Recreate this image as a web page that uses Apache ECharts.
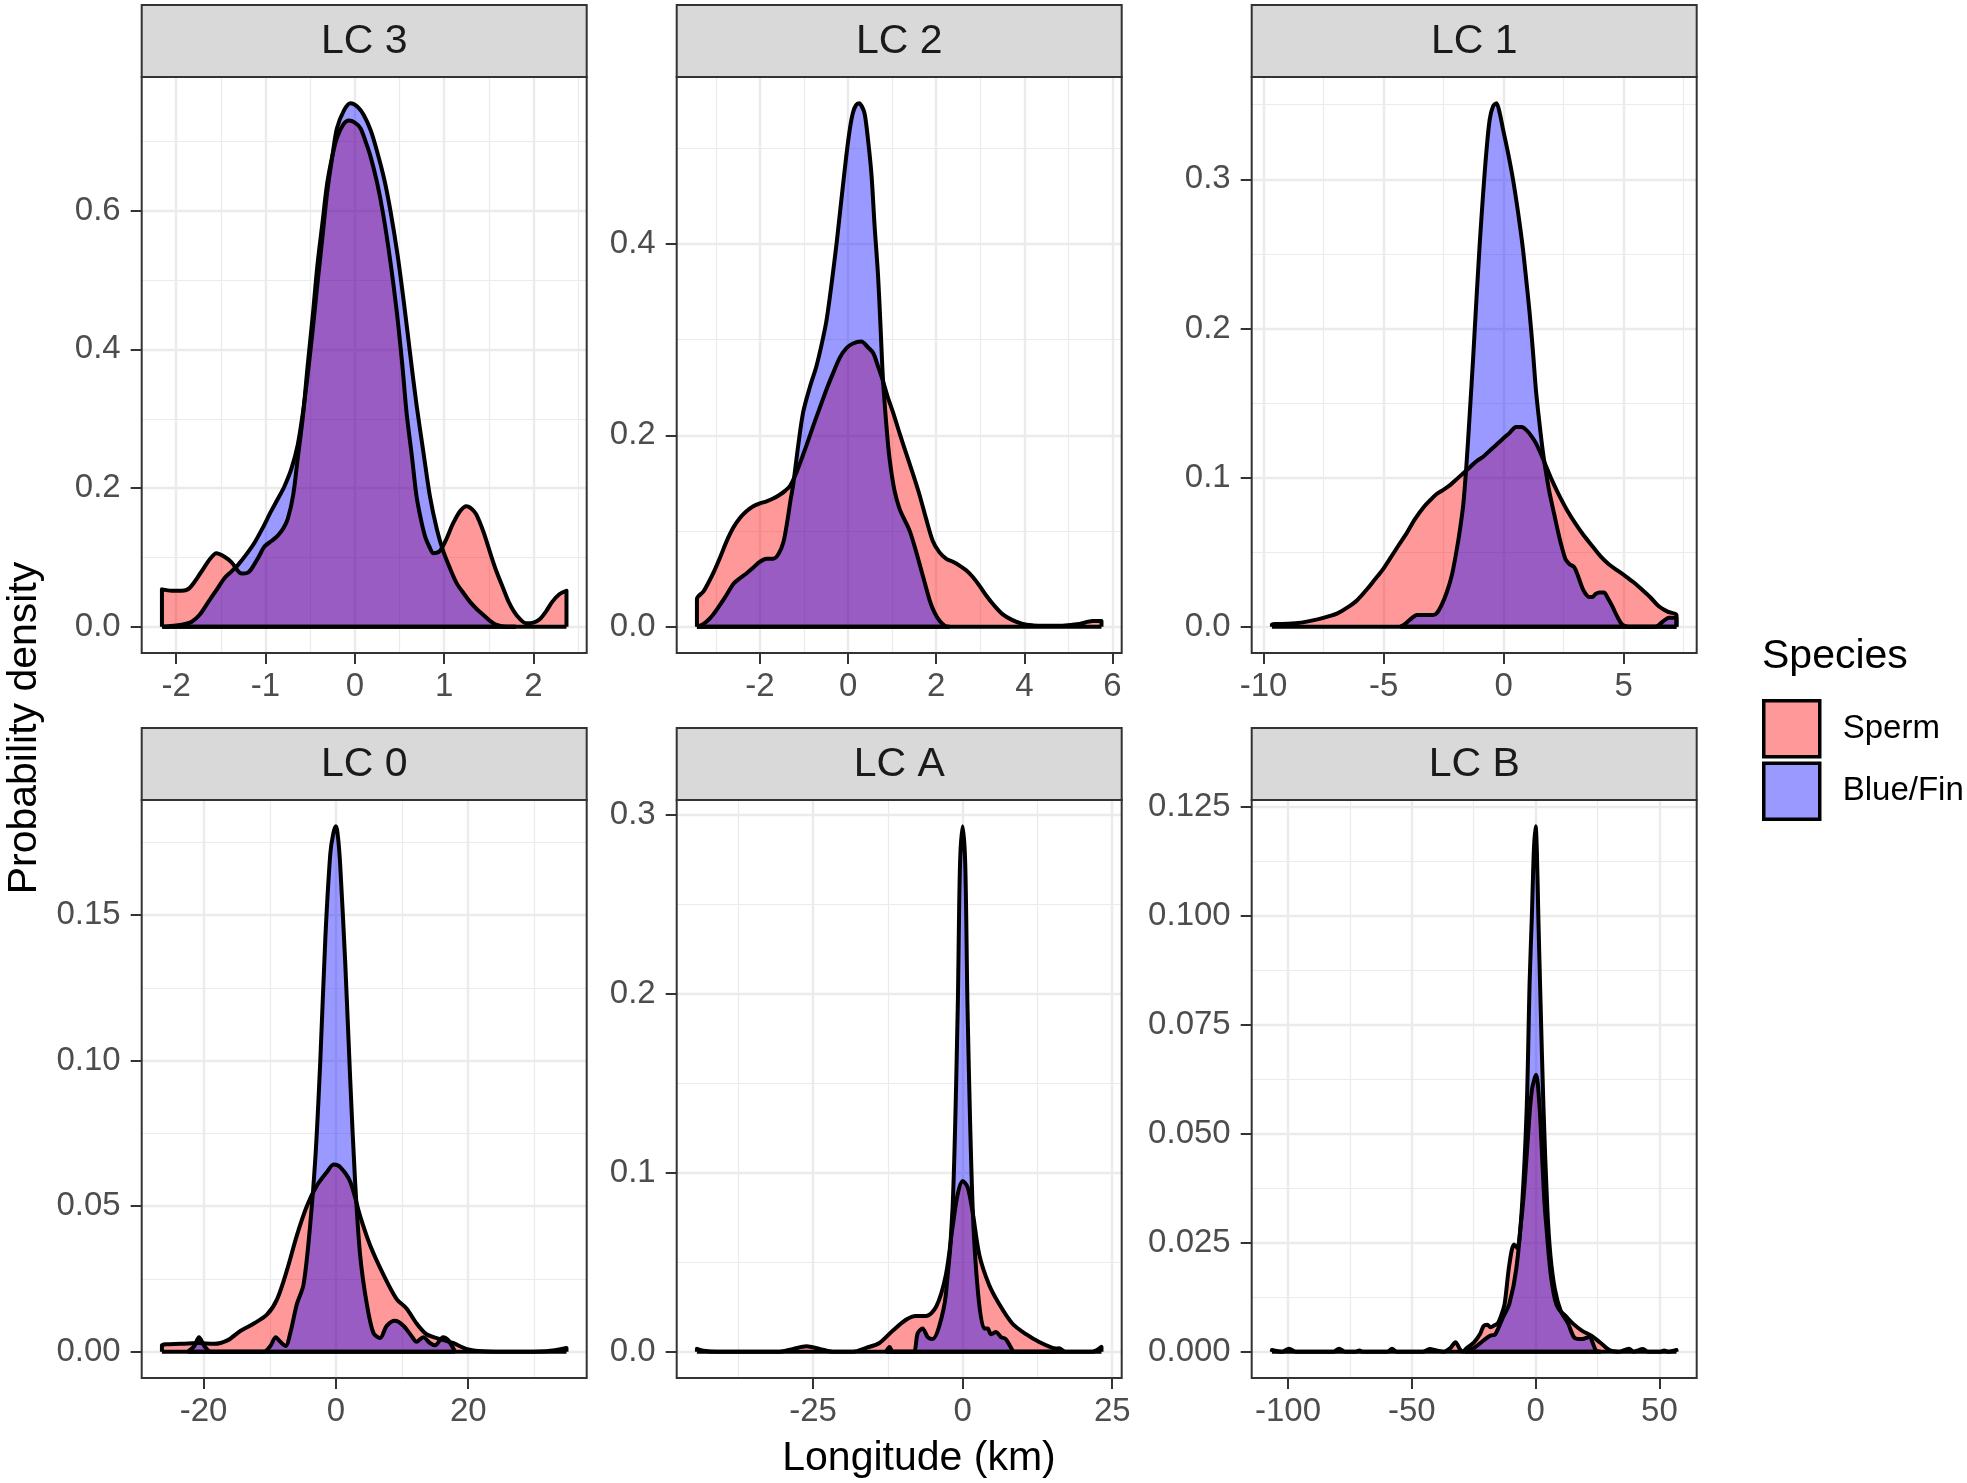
<!DOCTYPE html>
<html><head><meta charset="utf-8">
<script src="https://cdn.jsdelivr.net/npm/echarts@6/dist/echarts.min.js"></script>
<style>html,body{margin:0;padding:0;background:#fff}#c{width:1967px;height:1483px}</style>
</head><body><div id="c"></div><script>
// ---------------- DATA (x = longitude km, y = probability density) ----------------
const PANEL_NAMES = ['LC 3', 'LC 2', 'LC 1', 'LC 0', 'LC A', 'LC B'];
const SPECIES = ['Sperm', 'Blue/Fin'];

const LC3_SPERM = [[-2.16,0.054],[-2.05,0.052],[-1.94,0.052],[-1.85,0.056],[-1.72,0.079],[-1.62,0.098],[-1.55,0.106],[-1.46,0.101],[-1.38,0.093],[-1.27,0.077],[-1.2,0.078],[-1.16,0.083],[-1.08,0.100],[-1.01,0.116],[-0.93,0.124],[-0.86,0.132],[-0.8,0.142],[-0.75,0.156],[-0.69,0.19],[-0.64,0.242],[-0.58,0.305],[-0.53,0.374],[-0.47,0.45],[-0.42,0.52],[-0.36,0.585],[-0.31,0.639],[-0.25,0.68],[-0.2,0.705],[-0.13,0.724],[-0.067,0.730],[0.0,0.727],[0.063,0.719],[0.12,0.70],[0.174,0.679],[0.25,0.64],[0.32,0.593],[0.40,0.525],[0.47,0.454],[0.53,0.38],[0.58,0.308],[0.64,0.245],[0.69,0.189],[0.74,0.155],[0.79,0.129],[0.84,0.114],[0.88,0.106],[0.95,0.109],[1.02,0.125],[1.10,0.149],[1.18,0.167],[1.25,0.174],[1.31,0.170],[1.36,0.162],[1.44,0.137],[1.51,0.109],[1.58,0.082],[1.66,0.056],[1.73,0.034],[1.81,0.017],[1.92,0.005],[2.0,0.006],[2.07,0.011],[2.14,0.022],[2.21,0.036],[2.29,0.047],[2.37,0.052]];
const LC3_BLUE = [[-2.15,0.0],[-2.0,0.002],[-1.9,0.004],[-1.83,0.007],[-1.74,0.017],[-1.64,0.036],[-1.55,0.053],[-1.46,0.07],[-1.38,0.08],[-1.31,0.089],[-1.2,0.107],[-1.12,0.122],[-1.03,0.143],[-0.94,0.166],[-0.86,0.185],[-0.79,0.202],[-0.71,0.228],[-0.64,0.262],[-0.58,0.31],[-0.53,0.361],[-0.47,0.43],[-0.42,0.493],[-0.36,0.565],[-0.31,0.626],[-0.25,0.68],[-0.2,0.719],[-0.12,0.745],[-0.048,0.755],[0.03,0.75],[0.10,0.738],[0.18,0.715],[0.25,0.685],[0.33,0.645],[0.40,0.599],[0.48,0.535],[0.55,0.467],[0.62,0.393],[0.69,0.321],[0.77,0.25],[0.84,0.189],[0.92,0.14],[0.99,0.109],[1.07,0.083],[1.14,0.063],[1.22,0.048],[1.29,0.036],[1.37,0.025],[1.44,0.017],[1.51,0.009],[1.58,0.003],[1.7,0.0],[1.8,0.0]];

const LC2_SPERM = [[-3.43,0.029],[-3.28,0.037],[-3.17,0.046],[-3.06,0.056],[-2.9,0.073],[-2.75,0.090],[-2.6,0.104],[-2.45,0.114],[-2.3,0.121],[-2.15,0.126],[-2.0,0.129],[-1.85,0.131],[-1.7,0.134],[-1.55,0.138],[-1.43,0.142],[-1.32,0.147],[-1.2,0.158],[-1.09,0.171],[-0.94,0.19],[-0.79,0.210],[-0.64,0.229],[-0.49,0.248],[-0.34,0.265],[-0.19,0.281],[-0.04,0.291],[0.11,0.296],[0.30,0.298],[0.45,0.292],[0.57,0.286],[0.68,0.272],[0.79,0.257],[0.9,0.24],[1.02,0.224],[1.17,0.202],[1.32,0.181],[1.47,0.16],[1.62,0.138],[1.77,0.113],[1.92,0.090],[2.07,0.078],[2.23,0.071],[2.38,0.068],[2.53,0.064],[2.68,0.059],[2.83,0.052],[2.98,0.043],[3.13,0.033],[3.32,0.022],[3.51,0.013],[3.73,0.007],[3.96,0.003],[4.2,0.0015],[4.42,0.001],[4.79,0.001],[5.05,0.002],[5.25,0.003],[5.55,0.006],[5.75,0.006]];
const LC2_BLUE = [[-3.43,0.0],[-3.28,0.003],[-3.13,0.009],[-2.98,0.018],[-2.79,0.031],[-2.6,0.045],[-2.45,0.051],[-2.3,0.056],[-2.15,0.062],[-2.0,0.068],[-1.85,0.071],[-1.7,0.071],[-1.58,0.076],[-1.47,0.088],[-1.38,0.11],[-1.3,0.134],[-1.25,0.147],[-1.13,0.19],[-1.02,0.224],[-0.87,0.25],[-0.72,0.272],[-0.6,0.295],[-0.49,0.320],[-0.37,0.36],[-0.26,0.401],[-0.15,0.447],[-0.04,0.492],[0.04,0.52],[0.11,0.537],[0.18,0.545],[0.25,0.547],[0.32,0.543],[0.38,0.535],[0.45,0.51],[0.53,0.473],[0.60,0.42],[0.68,0.367],[0.74,0.31],[0.79,0.26],[0.87,0.21],[0.94,0.176],[1.05,0.143],[1.17,0.123],[1.28,0.112],[1.40,0.100],[1.51,0.084],[1.62,0.066],[1.74,0.046],[1.85,0.028],[1.96,0.015],[2.08,0.006],[2.2,0.001],[2.3,0.0]];

const LC1_SPERM = [[-9.65,0.0015],[-9.0,0.002],[-8.58,0.0025],[-8.2,0.0035],[-7.75,0.005],[-7.3,0.007],[-6.92,0.009],[-6.5,0.013],[-6.09,0.018],[-5.7,0.025],[-5.4,0.031],[-5.05,0.038],[-4.72,0.046],[-4.4,0.054],[-4.03,0.063],[-3.7,0.072],[-3.34,0.080],[-3.05,0.085],[-2.79,0.089],[-2.5,0.092],[-2.23,0.095],[-1.95,0.099],[-1.68,0.103],[-1.4,0.107],[-1.13,0.111],[-0.85,0.114],[-0.58,0.118],[-0.3,0.122],[-0.03,0.126],[0.25,0.130],[0.52,0.134],[0.75,0.134],[0.94,0.132],[1.15,0.128],[1.35,0.123],[1.55,0.116],[1.76,0.108],[2.05,0.097],[2.32,0.088],[2.65,0.078],[3.0,0.069],[3.35,0.061],[3.70,0.054],[4.05,0.047],[4.38,0.042],[4.72,0.038],[5.07,0.034],[5.4,0.030],[5.76,0.025],[6.1,0.020],[6.45,0.014],[6.85,0.010],[7.2,0.008]];
const LC1_BLUE = [[-4.3,0.0],[-4.1,0.002],[-3.89,0.005],[-3.61,0.008],[-3.4,0.008],[-3.2,0.008],[-2.95,0.008],[-2.79,0.009],[-2.6,0.014],[-2.37,0.023],[-2.15,0.035],[-1.96,0.051],[-1.82,0.065],[-1.68,0.082],[-1.55,0.108],[-1.41,0.143],[-1.27,0.18],[-1.13,0.220],[-0.99,0.258],[-0.85,0.291],[-0.72,0.318],[-0.58,0.340],[-0.44,0.349],[-0.30,0.351],[-0.17,0.345],[-0.03,0.334],[0.18,0.318],[0.39,0.300],[0.6,0.278],[0.80,0.254],[0.94,0.233],[1.08,0.211],[1.22,0.185],[1.35,0.158],[1.49,0.137],[1.63,0.118],[1.76,0.104],[1.90,0.091],[2.1,0.076],[2.32,0.060],[2.45,0.052],[2.59,0.045],[2.75,0.042],[2.94,0.040],[3.1,0.034],[3.28,0.026],[3.42,0.022],[3.56,0.020],[3.7,0.020],[3.83,0.022],[4.0,0.023],[4.18,0.023],[4.35,0.019],[4.52,0.014],[4.73,0.007],[4.94,0.0015],[5.2,0.0],[5.49,0.0],[6.0,0.0],[6.31,0.0],[6.45,0.001],[6.59,0.003],[6.75,0.005],[6.87,0.006],[7.2,0.006]];

const LC0_SPERM = [[-26.3,0.0022],[-23.4,0.0027],[-20.9,0.003],[-18.4,0.0027],[-16.4,0.0039],[-14.4,0.0072],[-12.4,0.0097],[-10.4,0.0128],[-8.9,0.018],[-7.4,0.028],[-5.9,0.040],[-4.4,0.050],[-2.9,0.057],[-1.36,0.0617],[-0.35,0.0643],[0.65,0.0634],[2.16,0.0584],[3.66,0.0466],[5.17,0.0366],[7.18,0.0265],[9.18,0.0181],[10.7,0.0148],[12.2,0.0097],[13.7,0.006],[15.7,0.0044],[17.7,0.003],[19.7,0.001],[22.2,0.0002],[26.8,0.0],[31.8,0.0002],[34.85,0.0013]];
const LC0_BLUE = [[-22.4,0.0],[-21.4,0.002],[-20.7,0.005],[-19.9,0.002],[-18.9,0.0],[-10.9,0.0],[-9.9,0.002],[-9.1,0.005],[-8.4,0.0034],[-7.6,0.002],[-6.9,0.0064],[-5.9,0.0164],[-4.9,0.023],[-3.9,0.0433],[-3.1,0.0668],[-2.36,0.100],[-1.6,0.142],[-0.85,0.171],[-0.4,0.178],[0.0,0.1805],[0.35,0.176],[0.65,0.167],[1.4,0.134],[2.16,0.0936],[2.9,0.0584],[3.66,0.0332],[4.67,0.0164],[5.67,0.0064],[6.68,0.0047],[7.68,0.0089],[8.93,0.0106],[10.2,0.0089],[11.4,0.0055],[12.2,0.0034],[13.2,0.005],[14.2,0.003],[15.0,0.0022],[16.2,0.005],[17.0,0.0039],[18.0,0.0]];

const LCA_SPERM = [[-44.4,0.0016],[-43.3,0.0005],[-41,0.0],[-30.6,0.0],[-28.3,0.0016],[-26.1,0.003],[-23.9,0.0016],[-21.7,0.0],[-18.3,0.0],[-16.1,0.0022],[-13.9,0.0049],[-11.7,0.0117],[-9.4,0.018],[-7.8,0.020],[-6.1,0.020],[-4.4,0.0253],[-2.8,0.043],[-1.67,0.070],[-0.83,0.088],[0.0,0.0954],[0.83,0.092],[1.67,0.078],[2.8,0.054],[4.4,0.0376],[6.1,0.0267],[8.3,0.0158],[10.6,0.0098],[12.8,0.0054],[15.0,0.0022],[16.1,0.0016],[17.2,0.0],[21.7,0.0],[23.2,0.0027]];
const LCA_BLUE = [[-12.8,0.0],[-12.2,0.0027],[-11.7,0.0],[-8.3,0.0],[-7.5,0.0104],[-6.7,0.013],[-5.8,0.008],[-5.0,0.0071],[-3.9,0.0144],[-2.8,0.032],[-1.67,0.081],[-0.83,0.19],[-0.44,0.272],[0.0,0.2937],[0.44,0.272],[0.83,0.19],[1.67,0.081],[2.6,0.032],[3.6,0.013],[4.2,0.013],[4.7,0.0098],[5.6,0.011],[6.4,0.0082],[7.2,0.0071],[8.1,0.0022],[8.6,0.0],[15.3,0.0],[16.1,0.002],[16.9,0.0]];

const LCB_SPERM = [[-106.5,0.0004],[-102.5,0.0],[-99.6,0.0007],[-96.8,0.0],[-81.6,0.0],[-79.4,0.0007],[-76.9,0.0],[-72.5,0.0],[-71.2,0.0003],[-70,0.0],[-59.8,0.0],[-58.0,0.0007],[-56.1,0.0],[-45.6,0.0],[-42.8,0.0006],[-40.0,0.0003],[-37.1,0.0],[-34.3,0.0009],[-32.4,0.0022],[-30.5,0.0005],[-29.5,0.0],[-27.7,0.0009],[-24.8,0.0022],[-22.5,0.004],[-21.0,0.0059],[-19.5,0.0062],[-18.2,0.0056],[-16.8,0.006],[-15.3,0.0065],[-13.8,0.0085],[-12.5,0.011],[-10.6,0.020],[-8.7,0.0246],[-7.4,0.0238],[-6.0,0.029],[-4.5,0.038],[-3.0,0.050],[-1.5,0.060],[0.2,0.0635],[1.5,0.057],[2.65,0.0445],[3.6,0.034],[4.5,0.0277],[5.5,0.021],[6.4,0.0165],[7.8,0.012],[9.3,0.0098],[12.1,0.0082],[15.0,0.0065],[18.8,0.0048],[22.5,0.0037],[26.3,0.002],[30.1,0.0003],[33.9,0.0],[37.7,0.0007],[39.6,0.0],[43.4,0.0006],[45.3,0.0],[50.5,0.0],[51.9,0.0003],[53.5,0.0],[56.9,0.0004]];
const LCB_BLUE = [[-28.6,0.0],[-24.8,0.0009],[-21.0,0.0026],[-18.2,0.0037],[-16.3,0.004],[-13.4,0.0076],[-10.6,0.011],[-7.8,0.019],[-5.5,0.0333],[-3.6,0.0557],[-2.4,0.085],[-1.5,0.100],[-0.7,0.115],[0.0,0.1205],[0.5,0.115],[1.1,0.100],[2.0,0.080],[3.2,0.0557],[4.7,0.0333],[6.0,0.022],[7.8,0.0143],[10.2,0.0093],[13.1,0.0065],[15.9,0.0031],[18.8,0.0029],[21.6,0.0034],[24.4,0.0003],[26.3,0.0]];

// tick labels
const LC3_XTICKS = [-2,-1,0,1,2],        LC3_YTICKS = [0,0.2,0.4,0.6];
const LC2_XTICKS = [-2,0,2,4,6],         LC2_YTICKS = [0,0.2,0.4];
const LC1_XTICKS = [-10,-5,0,5],         LC1_YTICKS = [0,0.1,0.2,0.3];
const LC0_XTICKS = [-20,0,20],           LC0_YTICKS = [0,0.05,0.10,0.15];
const LCA_XTICKS = [-25,0,25],           LCA_YTICKS = [0,0.1,0.2,0.3];
const LCB_XTICKS = [-100,-50,0,50],      LCB_YTICKS = [0,0.025,0.05,0.075,0.1,0.125];
const Y_DECIMALS = [1,1,1,2,1,3];

// ---------------- LAYOUT / STYLE ----------------
const FONT = '"Liberation Sans", Arial, Helvetica, sans-serif';
const COL_LEFT = [141.7, 676.7, 1251.7];
const ROW_TOP = [77, 800];
const ROW_H = [576, 578];
const PANEL_W = 445;
const STRIP_H = 72;

const PANELS = [
  {sperm: LC3_SPERM, blue: LC3_BLUE, xt: LC3_XTICKS, yt: LC3_YTICKS},
  {sperm: LC2_SPERM, blue: LC2_BLUE, xt: LC2_XTICKS, yt: LC2_YTICKS},
  {sperm: LC1_SPERM, blue: LC1_BLUE, xt: LC1_XTICKS, yt: LC1_YTICKS},
  {sperm: LC0_SPERM, blue: LC0_BLUE, xt: LC0_XTICKS, yt: LC0_YTICKS},
  {sperm: LCA_SPERM, blue: LCA_BLUE, xt: LCA_XTICKS, yt: LCA_YTICKS},
  {sperm: LCB_SPERM, blue: LCB_BLUE, xt: LCB_XTICKS, yt: LCB_YTICKS}
];

function minorsOf(t, lo, hi) {
  const step = t[1] - t[0];
  const out = [];
  for (let v = t[0] - 2 * step + step / 2; v <= hi + 1e-9; v += step) {
    if (v >= lo) out.push(+v.toFixed(6));
  }
  return out;
}
function closed(pts) {
  return [[pts[0][0], 0]].concat(pts, [[pts[pts.length - 1][0], 0]]);
}

const grids = [], xAxes = [], yAxes = [], series = [], graphics = [];
const xMinor = [], yMinor = [];
const LINE_W = 4;

PANELS.forEach((p, i) => {
  const r = Math.floor(i / 3), c = i % 3;
  const left = COL_LEFT[c], top = ROW_TOP[r], h = ROW_H[r];
  grids.push({left: left, top: top, width: PANEL_W, height: h, show: false, containLabel: false, outerBoundsMode: 'none'});

  const all = p.sperm.concat(p.blue);
  let xmn = Infinity, xmx = -Infinity, ymx = 0;
  all.forEach(q => { xmn = Math.min(xmn, q[0]); xmx = Math.max(xmx, q[0]); ymx = Math.max(ymx, q[1]); });
  const xr = xmx - xmn;
  const X0 = xmn - 0.05 * xr, X1 = xmx + 0.05 * xr;
  const Y0 = -0.05 * ymx, Y1 = 1.05 * ymx;
  const dec = Y_DECIMALS[i];

  xAxes.push({
    type: 'value', gridIndex: i, min: X0, max: X1, position: 'bottom',
    axisLine: {show: false, onZero: false},
    axisTick: {show: true, customValues: p.xt, length: 11, lineStyle: {color: '#333333', width: 2}},
    axisLabel: {show: true, customValues: p.xt, margin: 17, fontSize: 33, color: '#4D4D4D', fontFamily: FONT,
                formatter: v => String(+v.toFixed(6))},
    splitLine: {show: true, lineStyle: {color: '#EBEBEB', width: 2.4}}
  });
  yAxes.push({
    type: 'value', gridIndex: i, min: Y0, max: Y1, position: 'left',
    axisLine: {show: false, onZero: false},
    axisTick: {show: true, customValues: p.yt, length: 11, lineStyle: {color: '#333333', width: 2}},
    axisLabel: {show: true, customValues: p.yt, margin: 21, fontSize: 33, color: '#4D4D4D', fontFamily: FONT,
                formatter: v => v.toFixed(dec)},
    splitLine: {show: true, lineStyle: {color: '#EBEBEB', width: 2.4}}
  });
  xMinor.push({
    type: 'value', gridIndex: i, min: X0, max: X1, position: 'top',
    axisLine: {show: false, onZero: false},
    axisTick: {show: false, customValues: minorsOf(p.xt, X0, X1)},
    axisLabel: {show: false},
    splitLine: {show: true, lineStyle: {color: '#EBEBEB', width: 1.2}}
  });
  yMinor.push({
    type: 'value', gridIndex: i, min: Y0, max: Y1, position: 'right',
    axisLine: {show: false, onZero: false},
    axisTick: {show: false, customValues: minorsOf(p.yt, Y0, Y1)},
    axisLabel: {show: false},
    splitLine: {show: true, lineStyle: {color: '#EBEBEB', width: 1.2}}
  });

  [[p.sperm, 'Sperm', '#FF0000'], [p.blue, 'Blue/Fin', '#0000FF']].forEach(([pts, name, col]) => {
    series.push({
      type: 'line', name: name, xAxisIndex: i, yAxisIndex: i,
      data: closed(pts), symbol: 'none', showSymbol: false, smooth: 0.3,
      lineStyle: {color: '#000000', width: LINE_W, join: 'round'},
      itemStyle: {color: col},
      areaStyle: {color: col, opacity: 0.4},
      silent: true, z: 2
    });
    series.push({
      type: 'line', name: '_base_' + name, xAxisIndex: i, yAxisIndex: i,
      data: [[pts[0][0], 0], [pts[pts.length - 1][0], 0]], symbol: 'none', showSymbol: false,
      lineStyle: {color: '#000000', width: LINE_W}, silent: true, z: 2
    });
  });

  // strip
  graphics.push({type: 'rect', shape: {x: left, y: top - STRIP_H, width: PANEL_W, height: STRIP_H},
    style: {fill: '#D9D9D9', stroke: '#333333', lineWidth: 2}, z: 50, silent: true});
  graphics.push({type: 'text', x: left + PANEL_W / 2, y: top - STRIP_H / 2 + 1,
    style: {text: PANEL_NAMES[i], align: 'center', verticalAlign: 'middle', fontSize: 41, fill: '#1A1A1A', fontFamily: FONT},
    z: 51, silent: true});
  // panel border
  graphics.push({type: 'rect', shape: {x: left, y: top, width: PANEL_W, height: h},
    style: {fill: 'none', stroke: '#333333', lineWidth: 2}, z: 60, silent: true});
});

// axis titles & legend title
graphics.push({type: 'text', x: 919, y: 1459,
  style: {text: 'Longitude (km)', align: 'center', verticalAlign: 'middle', fontSize: 41, fill: '#000000', fontFamily: FONT}, silent: true});
graphics.push({type: 'text', x: 25, y: 728, rotation: Math.PI / 2,
  style: {text: 'Probability density', align: 'center', verticalAlign: 'middle', fontSize: 41, fill: '#000000', fontFamily: FONT}, silent: true});
graphics.push({type: 'text', x: 1762, y: 657,
  style: {text: 'Species', align: 'left', verticalAlign: 'middle', fontSize: 41, fill: '#000000', fontFamily: FONT}, silent: true});

const chart = echarts.init(document.getElementById('c'), null, {renderer: 'canvas'});
chart.setOption({
  animation: false,
  backgroundColor: '#FFFFFF',
  grid: grids,
  xAxis: xAxes.concat(xMinor),
  yAxis: yAxes.concat(yMinor),
  legend: {
    orient: 'vertical', left: 1762, top: 699, padding: 0,
    itemWidth: 56, itemHeight: 56, itemGap: 3, icon: 'rect', selectedMode: false,
    textStyle: {fontSize: 33, color: '#000000', fontFamily: FONT, padding: [0, 0, 0, 18]},
    data: [
      {name: 'Sperm', icon: 'rect', itemStyle: {color: 'rgba(255,0,0,0.4)', borderColor: '#000000', borderWidth: 3.5}},
      {name: 'Blue/Fin', icon: 'rect', itemStyle: {color: 'rgba(0,0,255,0.4)', borderColor: '#000000', borderWidth: 3.5}}
    ]
  },
  graphic: graphics,
  series: series
});
</script></body></html>
